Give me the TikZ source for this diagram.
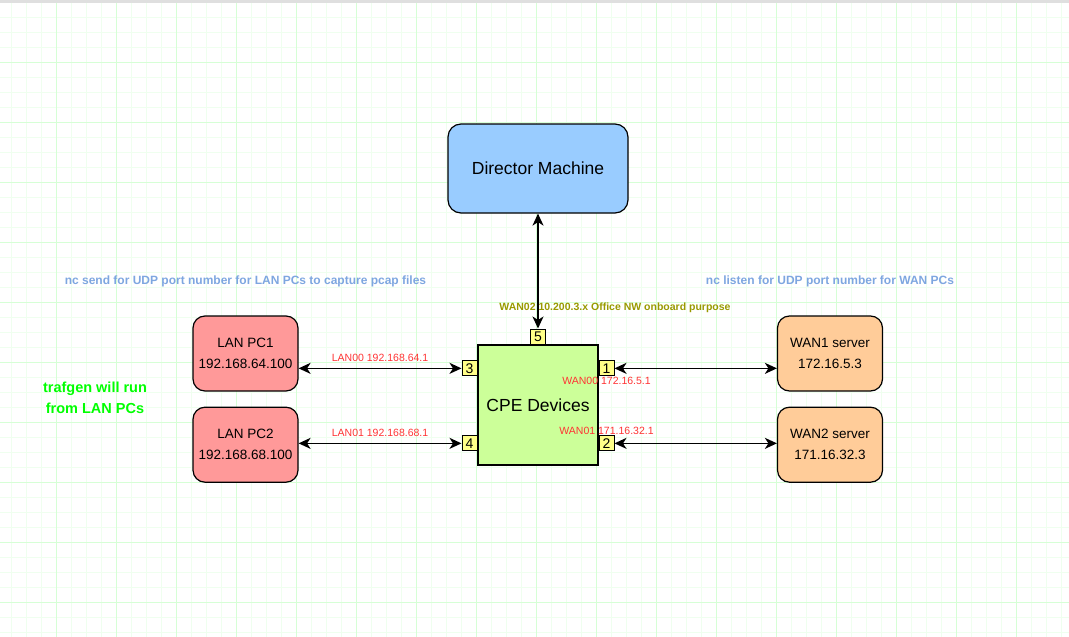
\documentclass[tikz,border=0pt]{standalone}
\usepackage{fontspec}
\setmainfont{Liberation Sans}
\usetikzlibrary{arrows.meta,positioning,calc}
\definecolor{dirblue}{HTML}{99CCFF}
\definecolor{cpegreen}{HTML}{CCFF99}
\definecolor{lanred}{HTML}{FF9999}
\definecolor{wanorange}{HTML}{FFCC99}
\definecolor{portyellow}{HTML}{FFFF88}
\definecolor{ipred}{HTML}{FF3333}
\definecolor{olivetxt}{HTML}{999900}
\definecolor{ncblue}{HTML}{7EA6E0}
\definecolor{trafgreen}{HTML}{00FF00}
\definecolor{gridmajor}{HTML}{D6FFD6}
\definecolor{gridminor}{HTML}{EFFFEF}
\tikzset{
  hostbox/.style={
    rectangle, rounded corners=12pt, draw=black, line width=1.2pt,
    fill=#1, minimum width=105pt, minimum height=75pt, inner sep=0pt,
    align=center, font=\fontsize{13.5}{21}\selectfont
  },
  bigbox/.style 2 args={
    rectangle, draw=black, line width=1.2pt, fill=#1,
    minimum width=#2, inner sep=0pt, align=center,
    font=\fontsize{17.5}{20}\selectfont
  },
  portbox/.style={
    rectangle, draw=black, line width=0.9pt, fill=portyellow,
    minimum width=15pt, minimum height=15pt, inner sep=0pt,
    font=\fontsize{14}{14}\selectfont
  },
  arr/.style={{Stealth[length=12pt,width=11pt,inset=3.5pt]}-{Stealth[length=12pt,width=11pt,inset=3.5pt]}, line width=1.6pt, black},
  iplbl/.style={font=\fontsize{10.5}{12}\selectfont, text=ipred, inner sep=1pt},
  nclbl/.style={font=\bfseries\fontsize{12}{14}\selectfont, text=ncblue}
}
\begin{document}
\begin{tikzpicture}[x=1pt,y=-1pt]
  \useasboundingbox (0,0) rectangle (1069,637);
  % grid
  \foreach \x in {11,26,...,1066} \draw[gridminor, line width=0.8pt] (\x,0) -- (\x,637);
  \foreach \y in {2,17,...,632} \draw[gridminor, line width=0.8pt] (0,\y) -- (1069,\y);
  \foreach \x in {56,116,...,1066} \draw[gridmajor, line width=0.9pt] (\x,0) -- (\x,637);
  \foreach \y in {2,62,...,632} \draw[gridmajor, line width=0.9pt] (0,\y) -- (1069,\y);
  \fill[gray!25] (0,0) rectangle (1069,2.5);

  \node[bigbox={cpegreen}{120pt}, minimum height=120pt] (cpe) at (538,405) {CPE Devices};
  \node[bigbox={dirblue}{180pt}, minimum height=89pt, rounded corners=13pt] (director) at (538,168.5) {Director Machine};

  \node[hostbox=lanred] (lanpc1) at (245.5,353.5) {LAN PC1\\192.168.64.100};
  \node[hostbox=lanred, below=15pt of lanpc1] (lanpc2) {LAN PC2\\192.168.68.100};
  \node[hostbox=wanorange] (wan1) at (830,353.5) {WAN1 server\\172.16.5.3};
  \node[hostbox=wanorange, below=15pt of wan1] (wan2) {WAN2 server\\171.16.32.3};

  \node[portbox, above=0pt of cpe] (p5) {5};
  \node[portbox, anchor=north east] (p3) at ($(cpe.north west)+(0,16)$) {3};
  \node[portbox, anchor=north east] (p4) at ($(cpe.north west)+(0,91)$) {4};
  \node[portbox, anchor=north west] (p1) at ($(cpe.north east)+(0,16)$) {1};
  \node[portbox, anchor=north west] (p2) at ($(cpe.north east)+(0,91)$) {2};

  \draw[arr] (director.south) -- (p5.north);
  \draw[arr] (p3.west -| lanpc1.east) -- node[iplbl, above=5pt]{LAN00 192.168.64.1} (p3.west);
  \draw[arr] (p4.west -| lanpc2.east) -- node[iplbl, above=5pt]{LAN01 192.168.68.1} (p4.west);
  \draw[arr] (p1.east) -- (p1.east -| wan1.west);
  \draw[arr] (p2.east) -- (p2.east -| wan2.west);

  \node[iplbl, below=0pt of p1] (wan00) {WAN00 172.16.5.1};
  \node[iplbl, above=0pt of p2] (wan01) {WAN01 171.16.32.1};
  \node[font=\bfseries\fontsize{10.5}{12}\selectfont, text=olivetxt] (wan02)
    at ($(p5.north)+(77,-21)$) {WAN02 10.200.3.x Office NW onboard purpose};

  \node[nclbl] (ncsend) at ($(lanpc1.north)+(0,-34)$)
    {nc send for UDP port number for LAN PCs to capture pcap files};
  \node[nclbl] (nclisten) at ($(wan1.north)+(0,-34)$)
    {nc listen for UDP port number for WAN PCs};
  \node[font=\bfseries\fontsize{14.5}{21}\selectfont, text=trafgreen, align=center] (trafgen)
    at (95,397.5) {trafgen will run\\from LAN PCs};
\end{tikzpicture}
\end{document}
